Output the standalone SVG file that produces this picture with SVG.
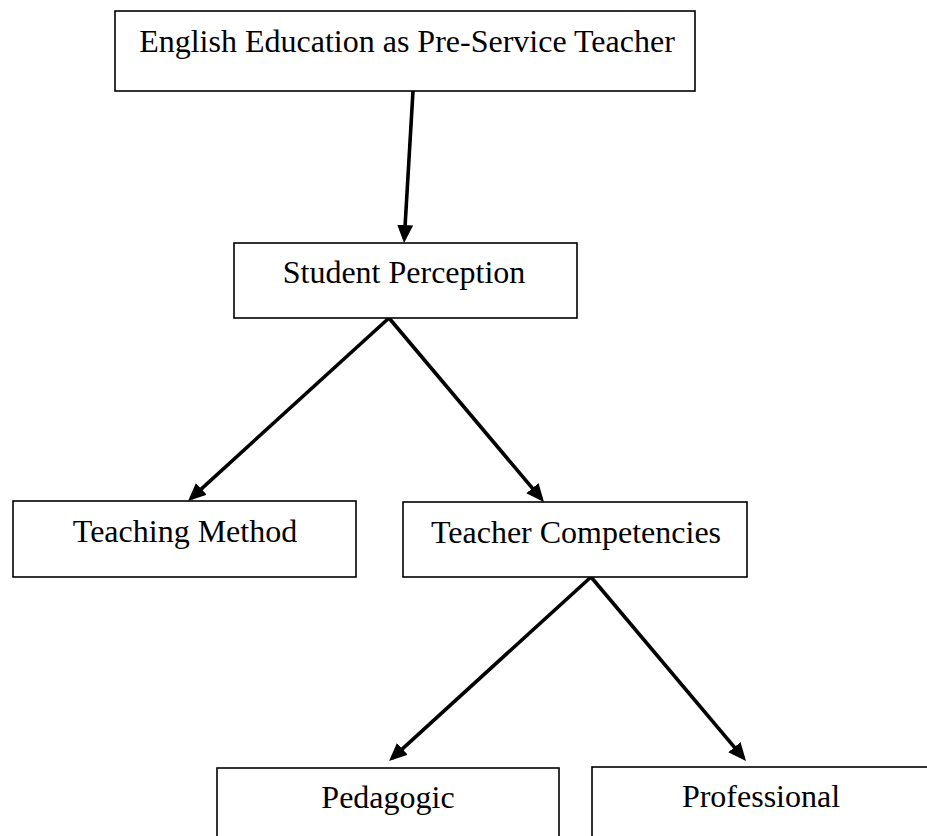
<svg xmlns="http://www.w3.org/2000/svg" width="927" height="836" viewBox="0 0 927 836">
<style>
.box{fill:#fff;stroke:#000;stroke-width:1.6}
.lbl{font-family:"Liberation Serif","Times New Roman",serif;font-size:32px;fill:#000;text-anchor:middle}
.con{stroke:#000;stroke-width:3.6;fill:none}
</style>
<defs>
<marker id="ah" markerUnits="userSpaceOnUse" markerWidth="18" markerHeight="16" refX="14" refY="8" orient="auto">
<path d="M0,0 L18,8 L0,16 z" fill="#000"/>
</marker>
</defs>
<rect width="927" height="836" fill="#fff"/>
<g id="connectors">
<line class="con" x1="413" y1="91" x2="404.3" y2="239" marker-end="url(#ah)"/>
<line class="con" x1="389" y1="318" x2="191" y2="498.3" marker-end="url(#ah)"/>
<line class="con" x1="389" y1="318" x2="541.4" y2="498.9" marker-end="url(#ah)"/>
<line class="con" x1="591" y1="577" x2="392" y2="758.3" marker-end="url(#ah)"/>
<line class="con" x1="591" y1="577" x2="743.4" y2="757.9" marker-end="url(#ah)"/>
</g>
<g id="node-english">
<rect class="box" x="115" y="11" width="580" height="80"/>
<text class="lbl" x="407" y="52">English Education as Pre-Service Teacher</text>
</g>
<g id="node-student">
<rect class="box" x="234" y="243" width="343" height="75"/>
<text class="lbl" x="404" y="283">Student Perception</text>
</g>
<g id="node-method">
<rect class="box" x="13" y="501" width="343" height="76"/>
<text class="lbl" x="185" y="542">Teaching Method</text>
</g>
<g id="node-competencies">
<rect class="box" x="403" y="502" width="344" height="75"/>
<text class="lbl" x="576" y="543">Teacher Competencies</text>
</g>
<g id="node-pedagogic">
<rect class="box" x="217" y="768" width="342" height="80"/>
<text class="lbl" x="388" y="808">Pedagogic</text>
</g>
<g id="node-professional">
<rect class="box" x="592" y="767" width="338" height="80"/>
<text class="lbl" x="761" y="807">Professional</text>
</g>
</svg>
